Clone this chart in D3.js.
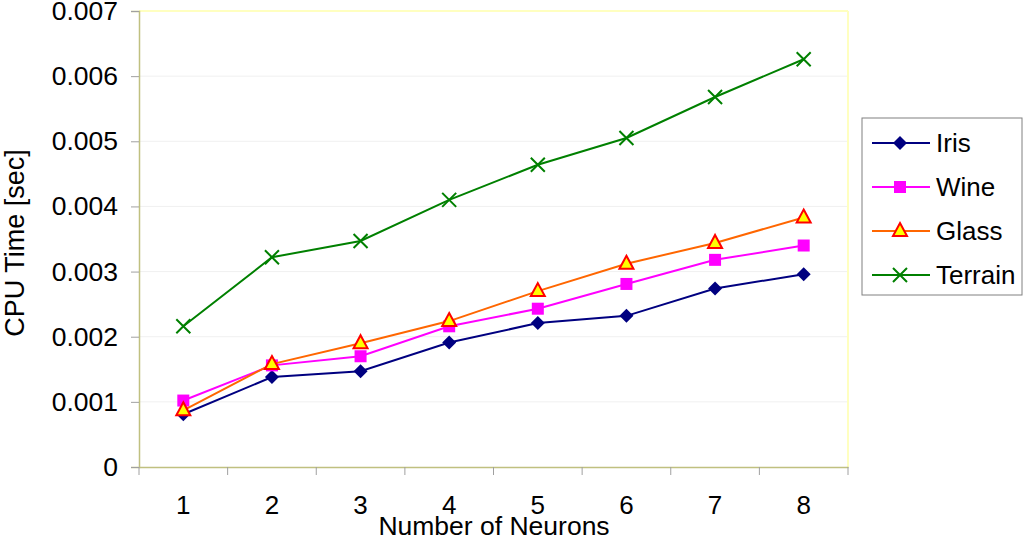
<!DOCTYPE html>
<html><head><meta charset="utf-8">
<script src="https://cdn.jsdelivr.net/npm/d3@7"></script>
<style>body{margin:0;background:#fff}svg{display:block}text{font-family:"Liberation Sans",Arial,sans-serif;fill:#000}</style>
</head><body><svg id="c" width="1024" height="537"></svg>
<script>
const categories = ["1","2","3","4","5","6","7","8"];
const yTicks = [0,0.001,0.002,0.003,0.004,0.005,0.006,0.007];
const iris    = [0.00081,0.00138,0.00147,0.00191,0.00221,0.00232,0.00274,0.00296];
const wine    = [0.00102,0.00156,0.00170,0.00216,0.00243,0.00281,0.00318,0.00340];
const glass   = [0.00087,0.00158,0.00190,0.00224,0.00270,0.00312,0.00344,0.00383];
const terrain = [0.00216,0.00322,0.00347,0.00410,0.00464,0.00505,0.00568,0.00626];
const seriesNames = ["Iris","Wine","Glass","Terrain"];

const series = [
  {name:seriesNames[0], values:iris, color:"#000080", marker:"diamond"},
  {name:seriesNames[1], values:wine, color:"#FF00FF", marker:"square"},
  {name:seriesNames[2], values:glass, color:"#FF6600", marker:"triangle"},
  {name:seriesNames[3], values:terrain, color:"#008000", marker:"cross"}
];

const svg = d3.select("#c");
const L=139, R=848, T=11, B=467;
const x = d3.scaleBand().domain(categories).range([L,R]);
const y = d3.scaleLinear().domain([0,0.007]).range([B,T]);
const FONT = "Liberation Sans, Arial, sans-serif";

// gridlines
svg.append("g").selectAll("line").data(yTicks.filter(d=>d>0)).join("line")
  .attr("x1",L).attr("x2",R).attr("y1",d=>y(d)).attr("y2",d=>y(d))
  .attr("stroke","#f0f0f0").attr("stroke-width",1);

// frame top/right
svg.append("line").attr("x1",L).attr("x2",R).attr("y1",T).attr("y2",T).attr("stroke","#ffffc0").attr("stroke-width",2);
svg.append("line").attr("x1",R).attr("x2",R).attr("y1",T).attr("y2",B).attr("stroke","#ffffc0").attr("stroke-width",2);

// y axis
const yAxis = svg.append("g").attr("transform",`translate(${L},0)`)
  .call(d3.axisLeft(y).tickValues(yTicks).tickSize(8).tickPadding(13).tickFormat(d=>d===0?"0":d3.format(".3f")(d)));
yAxis.select(".domain").attr("stroke","#c0c080").attr("stroke-width",1.5);
yAxis.selectAll(".tick line").attr("stroke","#a0a0a0");
yAxis.selectAll(".tick text").attr("font-size",26.5).attr("font-family",FONT).attr("fill","#000");

// x axis
const xAxis = svg.append("g").attr("transform",`translate(0,${B})`)
  .call(d3.axisBottom(x).tickSize(0).tickPadding(29));
xAxis.select(".domain").attr("stroke","#c0c080").attr("stroke-width",1.5);
xAxis.selectAll(".tick text").attr("font-size",26).attr("font-family",FONT).attr("fill","#000");
// boundary ticks
const bounds = categories.map(c=>x(c)).concat([x(categories[categories.length-1])+x.bandwidth()]);
svg.append("g").selectAll("line").data(bounds).join("line")
  .attr("x1",d=>d).attr("x2",d=>d).attr("y1",B).attr("y2",B+8).attr("stroke","#a0a0a0");

// titles
svg.append("text").attr("x",494).attr("y",535).attr("text-anchor","middle").attr("font-size",26.5).text("Number of Neurons");
svg.append("text").attr("transform",`translate(24,243) rotate(-90)`).attr("text-anchor","middle").attr("font-size",27).text("CPU Time [sec]");

function drawMarker(g, type, color){
  if(type==="diamond"){
    g.append("path").attr("d","M0,-7L7,0L0,7L-7,0Z").attr("fill",color);
  } else if(type==="square"){
    g.append("rect").attr("x",-6).attr("y",-6).attr("width",12).attr("height",12).attr("fill",color);
  } else if(type==="triangle"){
    g.append("path").attr("d","M0,-8L7,5L-7,5Z").attr("fill","#FFFF00").attr("stroke","#FF0000").attr("stroke-width",2);
  } else {
    g.append("path").attr("d","M-7,-7L7,7M-7,7L7,-7").attr("stroke",color).attr("stroke-width",2).attr("fill","none");
  }
}

const line = d3.line().x((d,i)=>x(categories[i])+x.bandwidth()/2).y(d=>y(d));
series.forEach(s=>{
  svg.append("path").datum(s.values).attr("d",line).attr("fill","none").attr("stroke",s.color).attr("stroke-width",2);
  s.values.forEach((v,i)=>{
    const g = svg.append("g").attr("transform",`translate(${x(categories[i])+x.bandwidth()/2},${y(v)})`);
    drawMarker(g, s.marker, s.color);
  });
});

// legend
const lg = svg.append("g");
lg.append("rect").attr("x",862).attr("y",118).attr("width",160).attr("height",177).attr("fill","#fff").attr("stroke","#808080").attr("stroke-width",1);
series.forEach((s,i)=>{
  const cy = 143 + i*44;
  lg.append("line").attr("x1",872).attr("x2",930).attr("y1",cy).attr("y2",cy).attr("stroke",s.color).attr("stroke-width",2);
  drawMarker(lg.append("g").attr("transform",`translate(900,${cy})`), s.marker, s.color);
  lg.append("text").attr("x",936).attr("y",cy+9).attr("font-size",26).text(s.name);
});
</script></body></html>
